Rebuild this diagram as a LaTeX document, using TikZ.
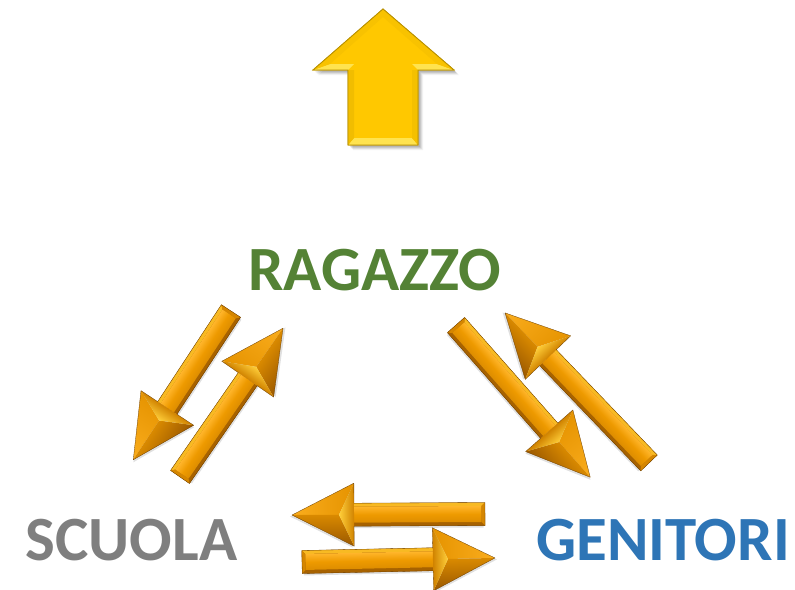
\documentclass[tikz,border=0pt]{standalone}
\usepackage{fontspec}
\setmainfont{Carlito}
\definecolor{orMain}{HTML}{EE9A00}
\definecolor{orDark}{HTML}{9A5800}
\definecolor{orLight}{HTML}{FFB52A}
\definecolor{orHi}{HTML}{FFCF3A}
\definecolor{yeMain}{HTML}{FFC800}
\definecolor{yeEdge}{HTML}{B89000}
\definecolor{yeHi}{HTML}{FFE34F}
\definecolor{txGreen}{HTML}{548235}
\definecolor{txGray}{HTML}{7F7F7F}
\definecolor{txBlue}{HTML}{2E75B6}
\tikzset{
  lbl/.style={inner sep=0pt, anchor=base, font=\bfseries\fontsize{63}{63}\selectfont},
}
% #1 tail x, #2 tail y, #3 angle, #4 length, #5 yscale (light side)
\newcommand\orarrow[5]{%
\begin{scope}[transform canvas={shift={(#1pt,#2pt)},rotate=#3,yscale=#5}]
  \pgfmathsetmacro\hb{#4-62}
  \pgfmathsetmacro\hc{#4-62+15}
  % soft shadow
  \fill[black,opacity=.12] (1.5,-13.5) -- (\hb+1.5,-13.5) -- (\hb+1.5,-33) -- (#4+2,-1.5)
     -- (\hb+1.5,30) -- (\hb+1.5,10) -- (1.5,10) -- cycle;
  % shaft
  \fill[orDark] (0,-11.5) rectangle (\hb,11.5);
  \fill[orHi!60!orMain] (0,11.5) -- (\hb,11.5) -- (\hb,8) -- (3.5,8) -- cycle;
  \fill[orDark!85!orMain] (0,-11.5) -- (\hb,-11.5) -- (\hb,-8) -- (3.5,-8) -- cycle;
  \fill[orMain!70!orDark] (0,11.5) -- (3.5,8) -- (3.5,-8) -- (0,-11.5) -- cycle;
  \shade[top color=orLight, bottom color=orMain!80!orDark, middle color=orMain]
     (3.5,-8) rectangle (\hb,8);
  % head facets
  \shade[left color=orMain!90!orDark, right color=orLight!70!orMain]
     (\hb,31.5) -- (#4,0) -- (\hc,0) -- cycle;
  \shade[top color=orMain!75!orDark, bottom color=orDark]
     (\hb,-31.5) -- (#4,0) -- (\hc,0) -- cycle;
  \shade[left color=orMain!65!orDark, right color=orHi]
     (\hb,31.5) -- (\hc,0) -- (\hb,-31.5) -- cycle;
  \draw[orDark!70!black,line width=.3pt,line join=round]
     (0,-11.5) -- (\hb,-11.5) -- (\hb,-31.5) -- (#4,0) -- (\hb,31.5) -- (\hb,11.5) -- (0,11.5) -- cycle;
\end{scope}}
\begin{document}
\begin{tikzpicture}[x=1pt,y=1pt]
\useasboundingbox (0,0) rectangle (795,-589);
\fill[white] (0,0) rectangle (795,-589);

% ---- yellow up arrow ----
\foreach \o/\op in {5/.05,4/.07,3/.09,2/.1}{
  \fill[black,opacity=\op] (348+\o,-145-\o) -- (348+\o,-70-\o) -- (313+\o,-70-\o) -- (383+\o,-9-\o)
     -- (454+\o,-70-\o) -- (418+\o,-70-\o) -- (418+\o,-145-\o) -- cycle;}
\fill[yeMain,draw=yeEdge,line width=.8pt,line join=miter]
  (348,-145) -- (348,-70) -- (313,-70) -- (383,-9) -- (454,-70) -- (418,-70) -- (418,-145) -- cycle;
% bevels
\fill[yeHi] (348,-145) -- (354,-138) -- (412,-138) -- (418,-145) -- cycle;
\fill[yeHi] (313,-70) -- (348,-70) -- (354,-64) -- (330,-64) -- cycle;
\fill[yeHi] (454,-70) -- (418,-70) -- (412,-64) -- (437,-64) -- cycle;
\fill[yeMain!80!yeEdge] (348,-145) -- (354,-138) -- (354,-70) -- (348,-70) -- cycle;
\fill[yeMain!85!yeEdge] (418,-145) -- (412,-138) -- (412,-70) -- (418,-70) -- cycle;
\fill[yeMain!90!yeEdge] (313,-70) -- (383,-9) -- (383,-17) -- (330,-64) -- cycle;
\fill[yeMain!90!yeEdge] (454,-70) -- (383,-9) -- (383,-17) -- (437,-64) -- cycle;
\draw[yeEdge,line width=.8pt,line join=miter]
  (348,-145) -- (348,-70) -- (313,-70) -- (383,-9) -- (454,-70) -- (418,-70) -- (418,-145) -- cycle;

% ---- orange arrows ----
\orarrow{231}{-311}{236.7}{178}{-1}
\orarrow{180}{-477}{55.3}{181}{1}
\orarrow{456}{-325}{-48.6}{203}{1}
\orarrow{649}{-463}{133.8}{208}{-1}
\orarrow{485}{-514}{180.3}{193}{-1}
\orarrow{302}{-562}{1.2}{193}{1}

% ---- labels ----
\node[lbl,text=txGreen] (rag) at (375,-290) {RAGAZZO};
\node[lbl,text=txGray] (scu) at (131.5,-560) {SCUOLA};
\node[lbl,text=txBlue] (gen) at (663,-560) {GENITORI};
\end{tikzpicture}
\end{document}
